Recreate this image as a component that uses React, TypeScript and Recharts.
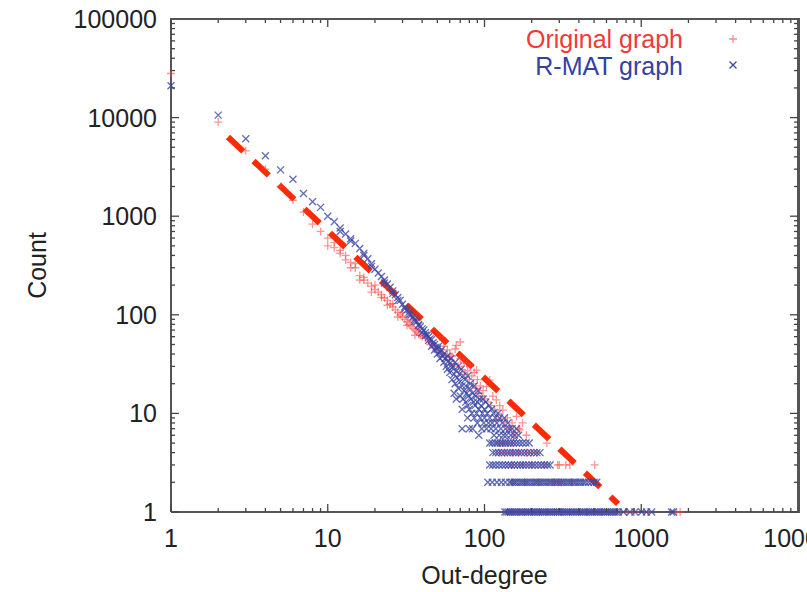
import { ScatterChart, Scatter, XAxis, YAxis, ReferenceLine, Legend, Label } from 'recharts'

// axis ticks (log scale, gnuplot style: labelled decades + minor ticks)
const xMajor = [1, 10, 100, 1000, 10000]
const xTicks = [
  1, 2, 3, 4, 5, 6, 7, 8, 9, 10, 20, 30, 40, 50, 60, 70, 80, 90, 100, 200, 300, 400, 500, 600, 700, 800,
  900, 1000, 2000, 3000, 4000, 5000, 6000, 7000, 8000, 9000, 10000,
]
const yMajor = [1, 10, 100, 1000, 10000, 100000]
const yTicks = [
  1, 2, 3, 4, 5, 6, 7, 8, 9, 10, 20, 30, 40, 50, 60, 70, 80, 90, 100, 200, 300, 400, 500, 600, 700, 800,
  900, 1000, 2000, 3000, 4000, 5000, 6000, 7000, 8000, 9000, 10000, 20000, 30000, 40000, 50000, 60000,
  70000, 80000, 90000, 100000,
]
const X_MIN = 1
const X_MAX = 10000
const Y_MIN = 1
const Y_MAX = 100000

// Original graph: low-degree part [out-degree, count]
const origHead = [
  [1, 28000], [2, 9000], [3, 4600], [4, 3000], [5, 2000], [6, 1450], [7, 1100], [8, 830], [9, 700],
  [10, 600], [11, 540], [12, 450], [13, 400], [14, 340], [15, 300], [16, 250], [17, 225], [18, 210],
  [19, 195], [20, 180], [21, 170], [22, 160], [23, 148], [24, 140], [25, 128], [26, 120], [27, 112],
  [28, 106], [29, 100], [30, 95], [31, 90], [32, 85], [33, 80], [34, 77], [35, 73], [36, 70], [37, 67],
  [38, 64], [39, 62], [40, 60], [10, 500], [11, 480], [12, 420], [13, 360], [14, 300], [15, 330],
  [16, 225], [17, 240], [19, 170], [20, 200], [22, 150], [24, 125], [26, 130], [28, 95], [30, 105],
  [32, 78], [34, 88], [36, 62], [38, 72],
]
const origCloud = [
  [42, 58], [44, 55], [45, 50], [46, 52], [48, 47], [50, 45], [52, 60], [52, 42], [54, 40], [55, 48],
  [56, 38], [58, 44], [60, 35], [60, 40], [62, 38], [64, 32], [65, 45], [66, 49], [68, 30], [70, 53],
  [70, 36], [72, 28], [74, 33], [75, 25], [77, 32], [78, 27], [80, 22], [81, 30], [83, 24], [85, 20],
  [86, 26], [88, 18], [89, 27.5], [90, 22], [92, 16], [94, 19], [96, 15], [98, 17], [100, 14],
  [103, 18.7], [105, 13], [108, 21.8], [110, 12], [113, 15], [116, 11], [119, 13.7], [119, 8.6],
  [122, 10], [125, 12], [128, 9], [131, 10.8], [135, 8], [140, 9], [145, 7], [150, 8], [155, 6],
  [160, 9.3], [165, 7], [168, 6.8], [175, 8], [185, 6],
]
// Original graph: degrees that occur only a few times (count -> out-degrees)
const origRow5 = [125, 130, 140, 150, 250]
const origRow4 = [125, 135, 150, 165, 185, 200, 216]
const origRow3 = [150, 175, 200, 240, 293, 300, 330, 350, 505]
const origRow2 = [150, 180, 220, 270, 280, 295, 310, 360]
const origRow1 = [140, 150, 165, 180, 200, 225, 250, 280, 310, 350, 400, 450, 500, 560, 620, 700, 810, 900, 1100, 1680, 1770]

// R-MAT graph
const rmatHead = [
  [1, 21000], [2, 10600], [3, 6100], [4, 4100], [5, 2950], [6, 2370], [7, 1700], [8, 1400], [9, 1230],
  [10, 1000], [11, 880], [12, 760], [13, 660], [14, 590], [15, 530], [16, 470], [17, 420], [18, 370],
  [19, 330], [20, 290], [21, 265], [22, 245], [23, 225], [24, 205], [25, 190], [26, 175], [27, 160],
  [28, 150], [29, 140], [30, 128], [31, 120], [32, 112], [33, 106], [34, 100], [35, 95], [36, 90],
  [37, 85], [38, 80], [39, 76], [40, 72], [41, 70], [42, 66], [43, 62], [44, 60], [45, 57], [12, 700],
  [14, 560], [17, 400], [19, 310], [23, 210], [26, 165], [28, 140], [31, 115], [33, 100], [36, 86],
  [38, 78], [40, 66], [42, 62], [44, 55],
]
const rmatCloud = [
  [46, 56], [46, 48], [47, 52], [48, 50], [48, 44], [49, 47], [50, 45], [50, 40], [51, 48], [52, 42],
  [52, 36], [53, 44], [54, 38], [55, 40], [55, 33], [56, 36], [57, 30], [58, 38], [58, 28], [59, 34],
  [60, 32], [60, 26], [61, 36], [62, 29], [62, 22], [63, 30], [64, 25], [65, 33], [65, 20], [66, 27],
  [67, 23], [68, 30], [68, 18], [69, 25], [70, 21], [70, 15], [71, 28], [72, 19], [73, 24], [73, 14],
  [74, 17], [75, 22], [76, 13], [76, 19], [77, 16], [78, 24], [78, 12], [79, 15], [80, 18], [80, 11],
  [81, 20], [82, 14], [83, 10], [84, 16], [85, 13], [86, 19], [86, 9], [87, 12], [88, 15], [89, 10],
  [90, 13], [90, 8], [91, 17], [92, 11], [93, 14], [94, 9], [95, 12], [96, 7], [97, 10], [98, 14],
  [99, 8], [100, 11], [100, 9], [102, 13], [103, 7], [104, 10], [106, 8], [107, 12], [108, 9],
  [110, 7], [111, 11], [112, 8], [114, 10], [115, 6], [117, 9], [118, 7], [120, 8], [122, 10],
  [124, 6], [125, 9], [127, 7], [130, 8], [132, 6], [134, 9], [136, 7], [138, 6], [141, 8], [144, 7],
  [147, 6], [150, 7], [155, 6], [160, 7], [165, 6], [64, 16], [66, 14], [72, 11], [78, 9], [84, 7],
  [92, 6], [72, 7], [80, 7],
]
const rmatRow5 = [108, 112, 117, 121, 126, 131, 136, 141, 147, 153, 160, 167, 175, 184, 193]
const rmatRow4 = [113, 118, 123, 128, 134, 140, 146, 152, 158, 165, 172, 180, 188, 197, 206, 216, 226]
const rmatRow3 = [
  108, 113, 118, 124, 130, 136, 142, 148, 155, 162, 169, 176, 184, 192, 201, 210, 220, 230, 241, 252, 262,
]
const rmatRow2 = [
  105, 112, 120, 128, 136, 145, 150, 155, 160, 166, 172, 178, 184, 190, 197, 204, 211, 218, 226, 234, 242,
  250, 259, 268, 278, 288, 298, 309, 320, 332, 344, 356, 369, 382, 396, 410, 425, 440, 460, 480, 500, 520,
]
const rmatRow1 = [
  135, 139, 143, 147, 151, 156, 161, 166, 171, 176, 182, 188, 194, 200, 206, 213, 220, 227, 234, 242, 250,
  258, 266, 275, 284, 293, 302, 312, 322, 333, 344, 355, 366, 378, 390, 403, 416, 430, 444, 458, 473, 488,
  504, 520, 537, 554, 572, 590, 609, 629, 649, 670, 692, 715, 769, 848, 912, 1006, 1080, 1165, 1560, 1600,
]

// dashed power-law guide
const fitStart = { x: 2.31, y: 6360 }
const fitEnd = { x: 711, y: 1.21 }

const RED = '#ff3c3c'
const BLUE = '#3a46a6'
const FONT = '"Liberation Sans", Arial, Helvetica, sans-serif'
const FRAME = '#555'

const W = 807
const H = 592
const MARGIN = { top: 19, right: 9, bottom: 0, left: 0 }
const Y_AXIS_W = 171
const X_AXIS_H = 80
const PLOT_TOP = MARGIN.top
const PLOT_RIGHT = W - MARGIN.right

function toPoints(pairs: number[][]) {
  return pairs.map(([x, y]) => ({ x, y }))
}
function rowPoints(xs: number[], count: number) {
  return xs.map((x) => ({ x, y: count }))
}

const origData = [
  ...toPoints(origHead),
  ...toPoints(origCloud),
  ...rowPoints(origRow5, 5),
  ...rowPoints(origRow4, 4),
  ...rowPoints(origRow3, 3),
  ...rowPoints(origRow2, 2),
  ...rowPoints(origRow1, 1),
]
const rmatData = [
  ...toPoints(rmatHead),
  ...toPoints(rmatCloud),
  ...rowPoints(rmatRow5, 5),
  ...rowPoints(rmatRow4, 4),
  ...rowPoints(rmatRow3, 3),
  ...rowPoints(rmatRow2, 2),
  ...rowPoints(rmatRow1, 1),
]

function plusPath(cx: number, cy: number, r: number) {
  return `M${cx - r},${cy}H${cx + r}M${cx},${cy - r}V${cy + r}`
}
function crossPath(cx: number, cy: number, r: number) {
  return `M${cx - r},${cy - r}L${cx + r},${cy + r}M${cx - r},${cy + r}L${cx + r},${cy - r}`
}

function PlusMark(props: any) {
  const { cx, cy } = props
  if (cx == null || cy == null) return null
  return <path d={plusPath(cx, cy, 4)} stroke={RED} strokeWidth={1.3} strokeOpacity={0.55} fill="none" />
}
function CrossMark(props: any) {
  const { cx, cy } = props
  if (cx == null || cy == null) return null
  return <path d={crossPath(cx, cy, 3.5)} stroke={BLUE} strokeWidth={1.3} strokeOpacity={0.8} fill="none" />
}

const tickStroke = { stroke: '#444', strokeWidth: 1.3 }

// gnuplot style: inward ticks mirrored on the opposite border, labels only on decades
function XTick(props: any) {
  const { x, y, payload } = props
  const v = payload.value
  const major = xMajor.includes(v)
  const len = major ? 8 : 4
  return (
    <g>
      <line x1={x} y1={y} x2={x} y2={y - len} {...tickStroke} />
      <line x1={x} y1={PLOT_TOP} x2={x} y2={PLOT_TOP + len} {...tickStroke} />
      {v === X_MAX && <line x1={x} y1={PLOT_TOP} x2={x} y2={y} stroke={FRAME} strokeWidth={2} />}
      {major && (
        <text x={x} y={y + 35} textAnchor="middle" fontSize={25} fontFamily={FONT} fill="#222">
          {v}
        </text>
      )}
    </g>
  )
}
function YTick(props: any) {
  const { x, y, payload } = props
  const v = payload.value
  const major = yMajor.includes(v)
  const len = major ? 8 : 4
  return (
    <g>
      <line x1={x} y1={y} x2={x + len} y2={y} {...tickStroke} />
      <line x1={PLOT_RIGHT} y1={y} x2={PLOT_RIGHT - len} y2={y} {...tickStroke} />
      {v === Y_MAX && <line x1={x} y1={y} x2={PLOT_RIGHT} y2={y} stroke={FRAME} strokeWidth={2} />}
      {major && (
        <text x={x - 14} y={y + 9} textAnchor="end" fontSize={25} fontFamily={FONT} fill="#222">
          {v}
        </text>
      )}
    </g>
  )
}

function LegendBox() {
  return (
    <svg width={300} height={70} style={{ display: 'block' }}>
      <text x={203} y={28} textAnchor="end" fontSize={25} fontFamily={FONT} fill="#f03a3a">
        Original graph
      </text>
      <path d={plusPath(253, 19, 4)} stroke={RED} strokeWidth={1.3} strokeOpacity={0.6} />
      <text x={203} y={55} textAnchor="end" fontSize={25} fontFamily={FONT} fill="#3442a0">
        R-MAT graph
      </text>
      <path d={crossPath(253, 45, 3.5)} stroke={BLUE} strokeWidth={1.3} />
    </svg>
  )
}

const axisLine = { stroke: FRAME, strokeWidth: 2 }

export default function App() {
  return (
    <div style={{ position: 'absolute', left: 0, top: 0, width: W, height: H, background: '#fff' }}>
      <ScatterChart width={W} height={H} margin={MARGIN}>
        <XAxis
          dataKey="x"
          type="number"
          scale="log"
          domain={[X_MIN, X_MAX]}
          ticks={xTicks}
          interval={0}
          height={X_AXIS_H}
          tickSize={0}
          tickMargin={0}
          tickLine={false}
          axisLine={axisLine}
          tick={<XTick />}
        >
          <Label value="Out-degree" position="insideBottom" offset={8} fontSize={25} fontFamily={FONT} fill="#222" />
        </XAxis>
        <YAxis
          dataKey="y"
          type="number"
          scale="log"
          domain={[Y_MIN, Y_MAX]}
          ticks={yTicks}
          interval={0}
          width={Y_AXIS_W}
          tickSize={0}
          tickMargin={0}
          tickLine={false}
          axisLine={axisLine}
          tick={<YTick />}
        >
          <Label
            value="Count"
            angle={-90}
            position="insideLeft"
            offset={37}
            fontSize={25}
            fontFamily={FONT}
            fill="#222"
            style={{ textAnchor: 'middle' }}
          />
        </YAxis>
        <Legend
          layout="vertical"
          align="center"
          verticalAlign="middle"
          content={<LegendBox />}
          wrapperStyle={{ left: 480, top: 20, width: 300, height: 70 }}
        />
        <Scatter name="Original graph" data={origData} shape={<PlusMark />} isAnimationActive={false} />
        <Scatter name="R-MAT graph" data={rmatData} shape={<CrossMark />} isAnimationActive={false} />
        <ReferenceLine segment={[fitStart, fitEnd]} stroke="#ff2a00" strokeWidth={6} strokeDasharray="21 14" />
      </ScatterChart>
      {/* top and right border of the plot box, on top of the chart */}
      <div
        style={{
          position: 'absolute',
          left: MARGIN.left + Y_AXIS_W - 1,
          top: PLOT_TOP - 1,
          width: PLOT_RIGHT - (MARGIN.left + Y_AXIS_W) + 1,
          height: H - X_AXIS_H - PLOT_TOP,
          borderTop: `2px solid ${FRAME}`,
          borderRight: `2px solid ${FRAME}`,
          pointerEvents: 'none',
        }}
      />
    </div>
  )
}
